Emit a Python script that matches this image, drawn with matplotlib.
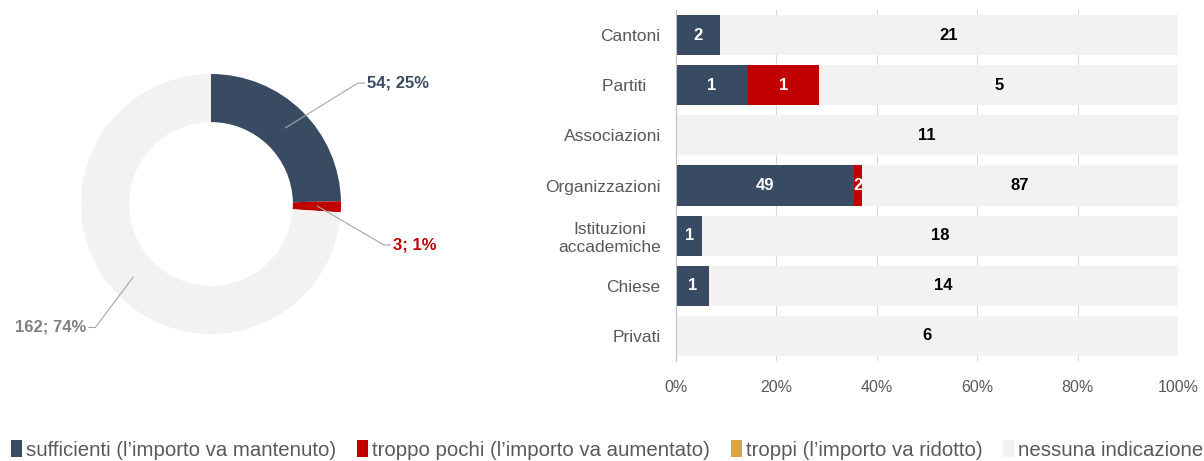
import numpy as np
import matplotlib
matplotlib.use("Agg")
import matplotlib.pyplot as plt
from matplotlib.patches import Patch

plt.rcParams['font.family'] = ['Liberation Sans', 'DejaVu Sans']

# dati
categorie = ['Cantoni', 'Partiti   ', 'Associazioni', 'Organizzazioni',
             'Istituzioni\naccademiche', 'Chiese', 'Privati']
sufficienti = [2, 1, 0, 49, 1, 1, 0]
troppo_pochi = [0, 1, 0, 2, 0, 0, 0]
troppi = [0, 0, 0, 0, 0, 0, 0]
nessuna = [21, 5, 11, 87, 18, 14, 6]

serie_nomi = ["sufficienti (l’importo va mantenuto)",
              "troppo pochi (l’importo va aumentato)",
              "troppi (l’importo va ridotto)",
              "nessuna indicazione"]
colori = ['#394B63', '#C00000', '#DDA43F', '#F2F2F2']
testo_col = ['white', 'white', 'white', 'black']

totali_donut = [54, 3, 162]
donut_colori = ['#394B63', '#C00000', '#F2F2F2']
donut_testo = ['#394B63', '#C00000', '#808080']

fig = plt.figure(figsize=(12.04, 4.61), dpi=100)

# ---- ciambella ----
ax1 = fig.add_axes([81 / 1204, (461 - 334) / 461, 260 / 1204, 260 / 461])
wedges, _ = ax1.pie(totali_donut, colors=donut_colori, startangle=90,
                    counterclock=False, radius=1,
                    wedgeprops=dict(width=0.37, edgecolor='none'))
ax1.set_xlim(-1, 1)
ax1.set_ylim(-1, 1)
ax1.set_aspect('equal')
ax1.axis('off')

tot = sum(totali_donut)
# posizione etichette (gomito)
gomiti = [(1.13, 0.93), (1.33, -0.315), (-0.89, -0.95)]
for i, w in enumerate(wedges):
    ang = np.deg2rad((w.theta1 + w.theta2) / 2)
    x0, y0 = 0.82 * np.cos(ang), 0.82 * np.sin(ang)
    gx, gy = gomiti[i]
    lab = f"{totali_donut[i]}; {round(100 * totali_donut[i] / tot)}%"
    s = 1 if gx > 0 else -1
    ax1.plot([x0, gx, gx + s * 0.05], [y0, gy, gy], color='#A6A6A6', lw=0.8, clip_on=False)
    ax1.text(gx + s * 0.07, gy, lab, ha='left' if s > 0 else 'right', va='center',
             color=donut_testo[i], fontsize=12, fontweight='bold')

# ---- barre 100% ----
ax2 = fig.add_axes([676 / 1204, (461 - 361) / 461, 502 / 1204, 351 / 461])
dati = np.array([sufficienti, troppo_pochi, troppi, nessuna], dtype=float)
somme = dati.sum(axis=0)
quote = dati / somme * 100
y = np.arange(len(categorie))
sinistra = np.zeros(len(categorie))
for k in range(4):
    ax2.barh(y, quote[k], left=sinistra, height=0.8, color=colori[k], zorder=2)
    for j in range(len(categorie)):
        if dati[k, j] > 0:
            ax2.text(sinistra[j] + quote[k, j] / 2, y[j], f"{int(dati[k, j])}",
                     ha='center', va='center', color=testo_col[k],
                     fontsize=12, fontweight='bold', zorder=3)
    sinistra += quote[k]

ax2.set_ylim(len(categorie) - 0.5, -0.5)
ax2.set_xlim(0, 100)
ax2.set_yticks(y)
ax2.set_yticklabels(categorie, fontsize=12.5, color='#595959', ha='right',
                    multialignment='center')
ax2.tick_params(axis='y', length=0, pad=11)
ax2.set_xticks(np.arange(0, 101, 20))
ax2.set_xticklabels([f"{v}%" for v in range(0, 101, 20)], fontsize=11.5, color='#595959')
ax2.tick_params(axis='x', length=0, pad=14)
ax2.grid(axis='x', color='#D9D9D9', lw=0.8, zorder=0)
for s in ['top', 'right', 'bottom']:
    ax2.spines[s].set_visible(False)
ax2.spines['left'].set_color('#BFBFBF')

# ---- legenda ----
maniglie = [Patch(facecolor=c, edgecolor='none') for c in colori]
fig.legend(maniglie, serie_nomi, loc='center left', bbox_to_anchor=(-0.006, 0.024),
           ncol=4, frameon=False, fontsize=14.7, handlelength=0.55, handleheight=0.85,
           handletextpad=0.2, columnspacing=1.0, labelcolor='#595959')

fig.savefig('out.png', dpi=100)
